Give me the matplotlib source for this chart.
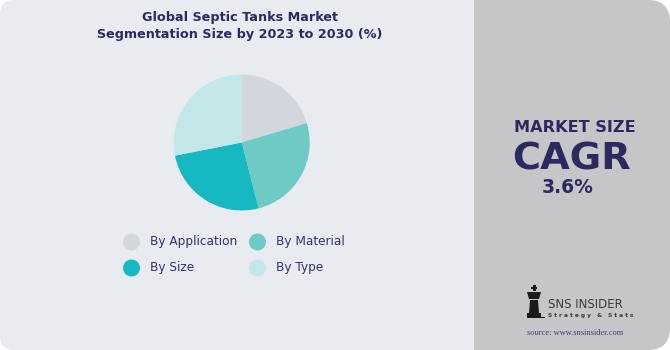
import matplotlib.pyplot as plt
from matplotlib.patches import FancyBboxPatch, Rectangle, Polygon

# segment shares (percent)
labels = ['By Application', 'By Material', 'By Size', 'By Type']
shares = [20.4, 25.6, 25.9, 28.1]
colors = ['#d1d7dd', '#6ecac4', '#16b9c1', '#c3e6e8']

title = 'Global Septic Tanks Market\nSegmentation Size by 2023 to 2030 (%)'
cagr = '3.6%'

navy = '#2b2a5f'
W, H = 670, 350

fig = plt.figure(figsize=(6.7, 3.5), dpi=100, facecolor='white')

# background axes in pixel units (y down)
bg = fig.add_axes([0, 0, 1, 1])
bg.set_xlim(0, W)
bg.set_ylim(H, 0)
bg.axis('off')

bg.add_patch(FancyBboxPatch((0, 0), 500, H, boxstyle='round,pad=0,rounding_size=14',
                            fc='#e8ecf1', ec='none'))
bg.add_patch(FancyBboxPatch((474, 0), W - 474, H, boxstyle='round,pad=0,rounding_size=22',
                            fc='#c5c6c8', ec='none'))
bg.add_patch(Rectangle((474, 0), 40, H, fc='#c5c6c8', ec='none'))

# title
bg.text(240, 26, title, ha='center', va='center', fontsize=9.2, fontweight='bold',
        color=navy, linespacing=1.35)

# pie
cx, cy, r = 241.7, 142.5, 68
pax = fig.add_axes([(cx - r) / W, (H - cy - r) / H, 2 * r / W, 2 * r / H])
pax.pie(shares, colors=colors, startangle=90, counterclock=False, radius=1,
        wedgeprops=dict(linewidth=0))
pax.set_xlim(-1, 1)
pax.set_ylim(-1, 1)
pax.axis('off')

# legend
lx = [131.5, 257.5]
ly = [242, 268]
for i, (lab, col) in enumerate(zip(labels, colors)):
    x = lx[i % 2]
    y = ly[i // 2]
    bg.scatter([x], [y], s=150, color=col, edgecolors='none', zorder=3)
    bg.text(x + 18, y, lab, ha='left', va='center', fontsize=8.7, color='#34346a')

# right panel text
bg.text(575, 127, 'MARKET SIZE', ha='center', va='center', fontsize=11.6,
        fontweight='bold', color=navy)
bg.text(571, 169, 'CAGR', ha='center', va='baseline', fontsize=27.5,
        fontweight='heavy', color=navy)
bg.text(568, 193, cagr, ha='center', va='baseline', fontsize=13.5,
        fontweight='bold', color=navy)

# logo: simple rook silhouette
k = '#1a1a1a'
bg.add_patch(Rectangle((527, 313), 14, 5, fc=k, ec='none'))
bg.add_patch(Polygon([(529, 313), (530, 300), (538, 300), (539, 313)], fc=k, ec='none'))
bg.add_patch(Polygon([(527, 292), (541, 292), (539, 299), (529, 299)], fc=k, ec='none'))
bg.add_patch(Rectangle((532.5, 285), 3, 6, fc=k, ec='none'))
bg.add_patch(Rectangle((531, 287), 6, 2, fc=k, ec='none'))
bg.add_patch(Rectangle((540, 316.5), 5, 1.2, fc=k, ec='none'))
bg.text(548, 305, 'SNS INSIDER', ha='left', va='center', fontsize=8.5,
        family='Liberation Sans Narrow', color='#3a3a3a')
bg.text(548, 315.5, 'S t r a t e g y   &   S t a t s', ha='left', va='center',
        fontsize=4.2, fontweight='bold', color='#3a3a3a')
bg.text(575, 333, 'source: www.snsinsider.com', ha='center', va='center',
        fontsize=6, family='Liberation Serif', color='#3b3b78')

fig.savefig('out.png', dpi=100, facecolor='white')
